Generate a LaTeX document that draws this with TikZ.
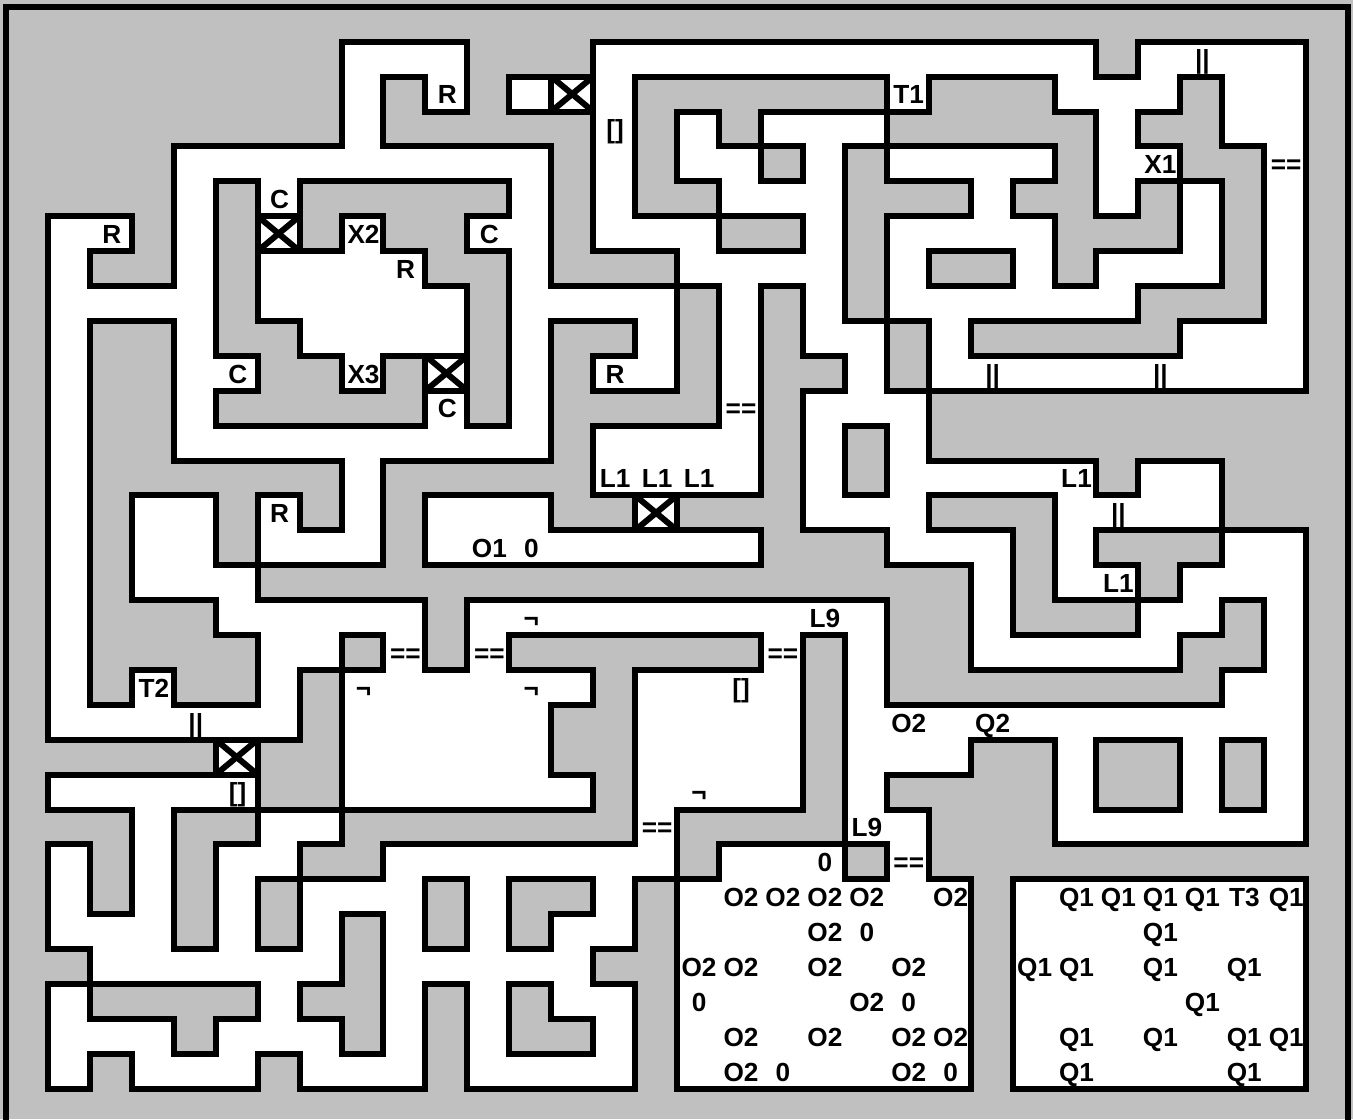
\documentclass[tikz,border=0pt]{standalone}
\usepackage{fontspec}
\setmainfont{Liberation Sans}
\definecolor{mapgray}{HTML}{C0C0C0}
\newcommand{\iswhite}[2]{\ifcsname w\the\numexpr#1\relax:\the\numexpr#2\relax\endcsname 1\else 0\fi}

\begin{document}
\begin{tikzpicture}[
        x=20.97pt, y=-17.45pt,
        wall/.style={draw=black, line width=3pt, line cap=rect},
        xbox/.style={draw=black, line width=3pt},
        tag/.style={anchor=base, inner sep=0pt, text=black, font=\fontsize{13.1}{14}\selectfont\bfseries}
      ]
        \useasboundingbox (-0.143,-0.195) rectangle (32.117,31.868);
        \fill[mapgray] (-0.143,-0.195) rectangle (32.117,31.868);

        \foreach \rw/\spans in {
            1/{8/11,14/26,27/31},
            2/{8/9,10/11,12/15,21/22,25/28,29/31},
            3/{8/9,14/15,16/17,18/21,26/27,29/31},
            4/{4/13,14/15,16/18,19/20,21/25,26/28,30/31},
            5/{4/5,6/7,12/13,14/15,17/20,23/24,26/27,28/29,30/31},
            6/{1/3,4/5,6/7,8/9,11/13,14/17,19/20,21/25,28/29,30/31},
            7/{1/2,4/5,6/10,12/13,16/20,21/22,24/25,26/29,30/31},
            8/{1/5,6/11,12/16,17/18,19/20,21/27,30/31},
            9/{1/2,4/5,7/11,12/13,15/16,17/18,19/21,22/23,28/31},
            10/{1/2,4/6,8/9,10/11,12/13,14/16,17/18,20/21,22/31},
            11/{1/2,4/5,10/11,12/13,17/18,19/22},
            12/{1/2,4/13,14/18,19/20,21/22},
            13/{1/2,8/9,14/18,19/20,21/26,27/29},
            14/{1/2,3/5,6/7,8/9,10/13,15/16,19/22,25/29},
            15/{1/2,3/5,6/9,10/18,21/24,25/26,29/31},
            16/{1/2,3/6,23/24,25/27,28/31},
            17/{1/2,5/10,11/21,23/24,27/29,30/31},
            18/{1/2,6/8,9/10,11/12,18/19,20/21,23/28,30/31},
            19/{1/2,3/4,6/7,8/14,15/19,20/21,29/31},
            20/{1/7,8/13,15/19,20/31},
            21/{5/6,8/13,15/19,20/23,25/26,28/29,30/31},
            22/{1/6,8/14,15/19,20/21,25/26,28/29,30/31},
            23/{3/4,6/8,15/16,20/22,25/31},
            24/{1/2,3/4,5/7,9/16,17/20,21/22},
            25/{1/2,3/4,5/6,7/10,11/12,14/15,16/23,24/31},
            26/{1/4,5/6,7/8,9/10,11/12,13/15,16/23,24/31},
            27/{2/8,9/14,16/23,24/31},
            28/{1/2,6/7,9/10,11/12,13/15,16/23,24/31},
            29/{1/4,5/8,9/10,11/12,14/15,16/23,24/31},
            30/{1/2,3/6,7/10,11/15,16/23,24/31}} {
          \foreach \lft/\rgt in \spans {
            \fill[white] (\lft,\rw) rectangle (\rgt,\rw+1.02);
            \pgfmathtruncatemacro{\lastcol}{\rgt-1}
            \foreach \col in {\lft,...,\lastcol} {
              \expandafter\gdef\csname w\col:\rw\endcsname{}
            }
          }
        }

        \foreach \col in {1,...,31} {
          \foreach \rw in {1,...,31} {
            \ifnum\iswhite{\col}{\rw}=\iswhite{\col-1}{\rw} \else
              \draw[wall] (\col,\rw) -- (\col,\rw+1);
            \fi
            \ifnum\iswhite{\col}{\rw}=\iswhite{\col}{\rw-1} \else
              \draw[wall] (\col,\rw) -- (\col+1,\rw);
            \fi
          }
        }

        \draw[wall] (0,32) -- (0,0) -- (32,0) -- (32,32);

        \foreach \cx/\cy in {13/2,6/6,10/10,15/14,5/21} {
          \draw[xbox] (\cx,\cy) rectangle (\cx+1,\cy+1);
          \draw[xbox] (\cx,\cy) -- (\cx+1,\cy+1);
          \draw[xbox] (\cx+1,\cy) -- (\cx,\cy+1);
        }

        \foreach \cx/\cy/\txt in {
            10/2/R, 2/6/R, 6/5/C, 8/6/X2, 11/6/C, 9/7/R, 5/10/C, 8/10/X3, 10/11/C, 14/10/R,
            14/3/{[]}, 21/2/T1, 27/4/X1, 28/1/||, 30/4/==, 23/10/||, 27/10/||,
            14/13/L1, 15/13/L1, 16/13/L1, 17/11/==, 11/15/O1, 12/15/0, 6/14/R,
            25/13/L1, 26/14/||, 26/16/L1, 12/17/¬, 19/17/L9,
            9/18/==, 11/18/==, 18/18/==, 8/19/¬, 12/19/¬, 17/19/{[]}, 3/19/T2, 4/20/||,
            21/20/O2, 23/20/Q2, 5/22/{[]}, 16/22/¬, 15/23/==, 20/23/L9, 19/24/0, 21/24/==,
            17/25/O2, 18/25/O2, 19/25/O2, 20/25/O2, 22/25/O2, 19/26/O2, 20/26/0,
            16/27/O2, 17/27/O2, 19/27/O2, 21/27/O2, 16/28/0, 20/28/O2, 21/28/0,
            17/29/O2, 19/29/O2, 21/29/O2, 22/29/O2, 17/30/O2, 18/30/0, 21/30/O2, 22/30/0,
            25/25/Q1, 26/25/Q1, 27/25/Q1, 28/25/Q1, 29/25/T3, 30/25/Q1, 27/26/Q1,
            24/27/Q1, 25/27/Q1, 27/27/Q1, 29/27/Q1, 28/28/Q1,
            25/29/Q1, 27/29/Q1, 29/29/Q1, 30/29/Q1, 25/30/Q1, 29/30/Q1} {
          \node[tag] (tag-\cx-\cy) at (\cx+0.525,\cy+0.78) {\txt};
        }
      \end{tikzpicture}
\end{document}
